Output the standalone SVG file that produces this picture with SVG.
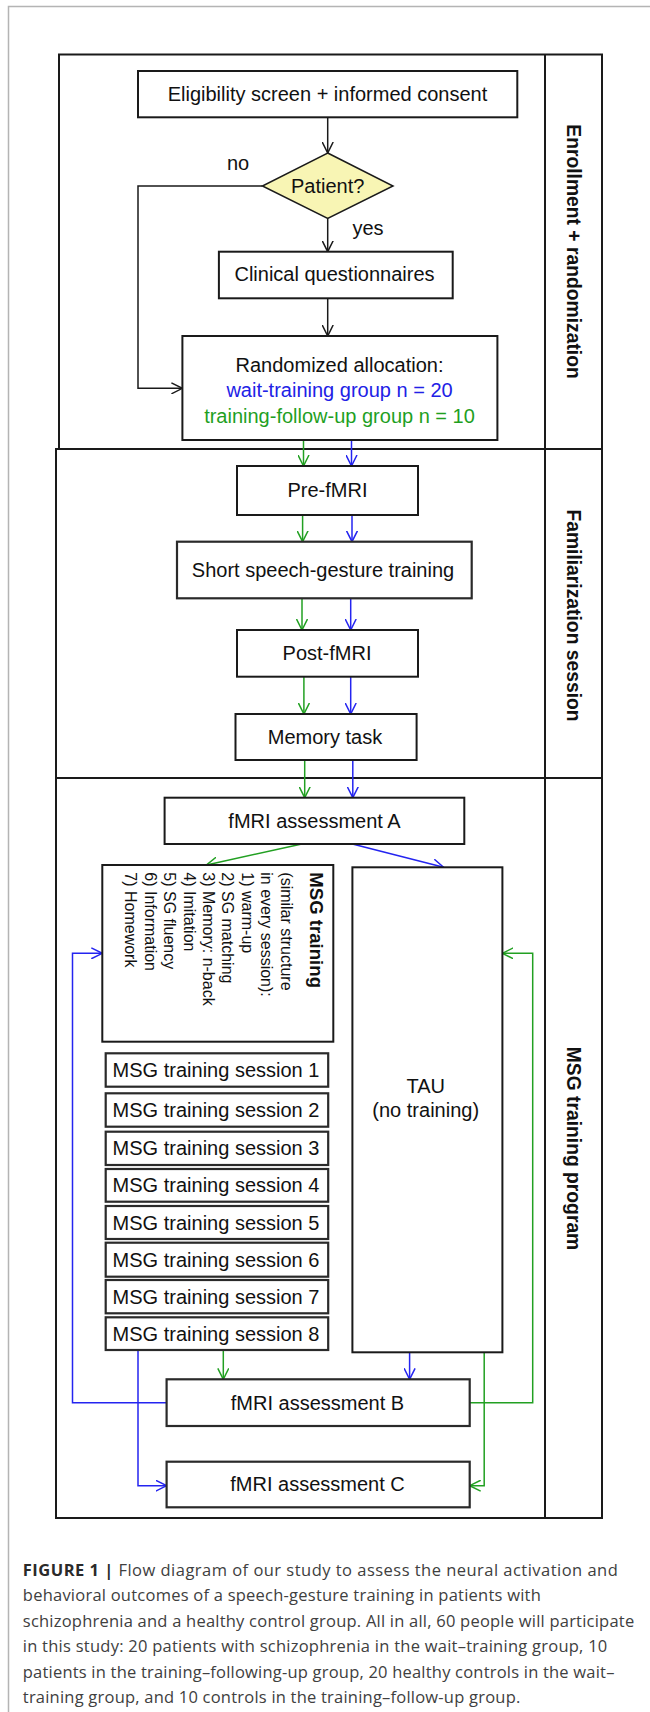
<svg xmlns="http://www.w3.org/2000/svg" width="650" height="1712" viewBox="0 0 650 1712">
<style>
.box{fill:#fff;stroke:#1a1a1a;stroke-width:2}
.sh{fill:#fff;stroke:#2a2a2a;stroke-width:2.2}
.t{font-family:"Liberation Sans",Arial,sans-serif;font-size:20px;fill:#111;text-anchor:middle}
.ls{font-family:"Liberation Sans",Arial,sans-serif;font-size:16px;fill:#111}
.lb{font-family:"Liberation Sans",Arial,sans-serif;font-size:19.3px;font-weight:bold;fill:#111;text-anchor:middle}
.frame{fill:none;stroke:#1a1a1a;stroke-width:2}
.card{fill:none;stroke:#b4b4b4;stroke-width:1.5}
.c{fill:none;stroke-width:1.5}
.k{stroke:#1a1a1a}
.b{stroke:#2424f0}
.g{stroke:#22a022}
.cap{font-family:"Open Sans","Liberation Sans",Arial,sans-serif;font-size:16.5px;fill:#404040}
</style>
<defs>
<marker id="ak" viewBox="0 0 12 12" refX="11" refY="6" markerWidth="12" markerHeight="12" markerUnits="userSpaceOnUse" orient="auto"><path d="M0,0.5 L11,6 L0,11.5" fill="none" stroke="#1a1a1a" stroke-width="1.5"/></marker>
<marker id="ab" viewBox="0 0 12 12" refX="11" refY="6" markerWidth="12" markerHeight="12" markerUnits="userSpaceOnUse" orient="auto"><path d="M0,0.5 L11,6 L0,11.5" fill="none" stroke="#2424f0" stroke-width="1.5"/></marker>
<marker id="ag" viewBox="0 0 12 12" refX="11" refY="6" markerWidth="12" markerHeight="12" markerUnits="userSpaceOnUse" orient="auto"><path d="M0,0.5 L11,6 L0,11.5" fill="none" stroke="#22a022" stroke-width="1.5"/></marker>
</defs>
<rect width="650" height="1712" fill="#fff"/>
<g id="card">
<path class="card" d="M8.5,1712 V6.5 H650"/>
</g>
<g id="frame">
<path class="frame" d="M59,449 V54.5 H602 V1518 H56 V449 H602 M56,778 H602 M545,54.5 V1518"/>
<text class="lb" transform="rotate(90)" x="251.5" y="-566.5">Enrollment + randomization</text>
<text class="lb" transform="rotate(90)" x="615.5" y="-566.5">Familiarization session</text>
<text class="lb" transform="rotate(90)" x="1148.5" y="-566.5">MSG training program</text>
</g>
<g id="connectors">
<path class="c k" d="M327.7,117.3 V153" marker-end="url(#ak)"/>
<path class="c k" d="M327.7,218.5 V251.7" marker-end="url(#ak)"/>
<path class="c k" d="M327.7,298.3 V336" marker-end="url(#ak)"/>
<path class="c k" d="M262.4,186 H138 V388.3 H182.4" marker-end="url(#ak)"/>
<path class="c g" d="M303.5,440 V466" marker-end="url(#ag)"/>
<path class="c b" d="M351.5,440 V466" marker-end="url(#ab)"/>
<path class="c g" d="M302.6,515 V541.7" marker-end="url(#ag)"/>
<path class="c b" d="M352,515 V541.7" marker-end="url(#ab)"/>
<path class="c g" d="M302,598.3 V630" marker-end="url(#ag)"/>
<path class="c b" d="M350.7,598.3 V630" marker-end="url(#ab)"/>
<path class="c g" d="M303.9,676.7 V714" marker-end="url(#ag)"/>
<path class="c b" d="M350.7,676.7 V714" marker-end="url(#ab)"/>
<path class="c g" d="M304.7,760 V797.7" marker-end="url(#ag)"/>
<path class="c b" d="M352.8,760 V797.7" marker-end="url(#ab)"/>
<path class="c g" d="M301.8,844 L206.5,865" marker-end="url(#ag)"/>
<path class="c b" d="M352.4,844 L443.6,867.3" marker-end="url(#ab)"/>
<path class="c b" d="M166.6,1402.7 H72.5 V953.3 H102.3" marker-end="url(#ab)"/>
<path class="c g" d="M469.7,1402.7 H532.7 V953.3 H502.4" marker-end="url(#ag)"/>
<path class="c g" d="M223.3,1350 V1379.3" marker-end="url(#ag)"/>
<path class="c b" d="M409.6,1353 V1379.3" marker-end="url(#ab)"/>
<path class="c b" d="M138,1350 V1485.7 H166.6" marker-end="url(#ab)"/>
<path class="c g" d="M484.2,1352.3 V1485.7 H469.7" marker-end="url(#ag)"/>
<text class="t" x="238" y="170">no</text>
<text class="t" x="352.4" y="235" style="text-anchor:start">yes</text>
</g>
<g id="eligibility">
<rect class="box" x="138" y="71" width="379.3" height="46.3"/>
<text class="t" x="327.5" y="100.5">Eligibility screen + informed consent</text>
</g>
<g id="patient">
<polygon points="327.7,153 393,186 327.7,218.5 262.4,186" fill="#f8f5b4" stroke="#1a1a1a" stroke-width="1.5"/>
<text class="t" x="327.7" y="193">Patient?</text>
</g>
<g id="clinical">
<rect class="box" x="218.9" y="251.7" width="233.8" height="46.6"/>
<text class="t" x="334.5" y="281">Clinical questionnaires</text>
</g>
<g id="randomized">
<rect class="box" x="182.4" y="336" width="315" height="104"/>
<text class="t" x="339.5" y="371.5">Randomized allocation:</text>
<text class="t" x="339.5" y="397" style="fill:#2121e6">wait-training group n = 20</text>
<text class="t" x="339.5" y="423" style="fill:#1f9f1f">training-follow-up group n = 10</text>
</g>
<g id="pre-fmri">
<rect class="box" x="237" y="466" width="181" height="49"/>
<text class="t" x="327.5" y="496.5">Pre-fMRI</text>
</g>
<g id="short-training">
<rect class="sh" x="177" y="541.7" width="294.7" height="56.6"/>
<text class="t" x="323" y="577">Short speech-gesture training</text>
</g>
<g id="post-fmri">
<rect class="box" x="237" y="630" width="181" height="46.7"/>
<text class="t" x="327" y="660">Post-fMRI</text>
</g>
<g id="memory-task">
<rect class="box" x="235.5" y="714" width="181.1" height="46"/>
<text class="t" x="325" y="744">Memory task</text>
</g>
<g id="fmri-a">
<rect class="box" x="164.6" y="797.7" width="299.7" height="46.3"/>
<text class="t" x="314.5" y="828">fMRI assessment A</text>
</g>
<g id="msg-training">
<rect class="box" x="102.3" y="865" width="231" height="176.7"/>
<g transform="rotate(90)">
<text class="ls" x="872.3" y="-309.6" style="font-weight:bold;font-size:18.6px">MSG training</text>
<text class="ls" x="872.3" y="-280.5">(similar structure</text>
<text class="ls" x="872.3" y="-261.1">in every session):</text>
<text class="ls" x="872.3" y="-241.7">1) warm-up</text>
<text class="ls" x="872.3" y="-222.3">2) SG matching</text>
<text class="ls" x="872.3" y="-202.9">3) Memory: n-back</text>
<text class="ls" x="872.3" y="-183.5">4) Imitation</text>
<text class="ls" x="872.3" y="-164.1">5) SG fluency</text>
<text class="ls" x="872.3" y="-144.7">6) Information</text>
<text class="ls" x="872.3" y="-125.3">7) Homework</text>
</g>
</g>
<g id="tau">
<rect class="box" x="352.4" y="867.3" width="150" height="485"/>
<text class="t" x="425.7" y="1093.3">TAU</text>
<text class="t" x="425.7" y="1117">(no training)</text>
</g>
<g id="session-1"><rect class="sh" x="105.7" y="1053.3" width="222.5" height="33.4"/><text class="t" x="216" y="1077">MSG training session 1</text></g>
<g id="session-2"><rect class="sh" x="105.7" y="1093.3" width="222.5" height="33.4"/><text class="t" x="216" y="1117">MSG training session 2</text></g>
<g id="session-3"><rect class="sh" x="105.7" y="1131.7" width="222.5" height="33.3"/><text class="t" x="216" y="1155.3">MSG training session 3</text></g>
<g id="session-4"><rect class="sh" x="105.7" y="1169" width="222.5" height="32.7"/><text class="t" x="216" y="1192.3">MSG training session 4</text></g>
<g id="session-5"><rect class="sh" x="105.7" y="1206" width="222.5" height="33"/><text class="t" x="216" y="1229.5">MSG training session 5</text></g>
<g id="session-6"><rect class="sh" x="105.7" y="1242.7" width="222.5" height="34"/><text class="t" x="216" y="1266.7">MSG training session 6</text></g>
<g id="session-7"><rect class="sh" x="105.7" y="1280" width="222.5" height="33.3"/><text class="t" x="216" y="1303.7">MSG training session 7</text></g>
<g id="session-8"><rect class="sh" x="105.7" y="1317.3" width="222.5" height="32.7"/><text class="t" x="216" y="1340.7">MSG training session 8</text></g>
<g id="fmri-b">
<rect class="sh" x="166.6" y="1379.3" width="303.1" height="46.7"/>
<text class="t" x="317.5" y="1409.5">fMRI assessment B</text>
</g>
<g id="fmri-c">
<rect class="sh" x="166.6" y="1461.7" width="303.1" height="45.6"/>
<text class="t" x="317.5" y="1490.5">fMRI assessment C</text>
</g>
<g id="caption">
<text class="cap" x="22.8" y="1575.5" textLength="595"><tspan font-weight="bold" fill="#2a2a2a">FIGURE 1 | </tspan>Flow diagram of our study to assess the neural activation and</text>
<text class="cap" x="22.8" y="1601" textLength="518">behavioral outcomes of a speech-gesture training in patients with</text>
<text class="cap" x="22.8" y="1626.5" textLength="611.4">schizophrenia and a healthy control group. All in all, 60 people will participate</text>
<text class="cap" x="22.8" y="1652" textLength="584.5">in this study: 20 patients with schizophrenia in the wait–training group, 10</text>
<text class="cap" x="22.8" y="1677.5" textLength="591.6">patients in the training–following-up group, 20 healthy controls in the wait–</text>
<text class="cap" x="22.8" y="1703" textLength="497.5">training group, and 10 controls in the training–follow-up group.</text>
</g>
</svg>
